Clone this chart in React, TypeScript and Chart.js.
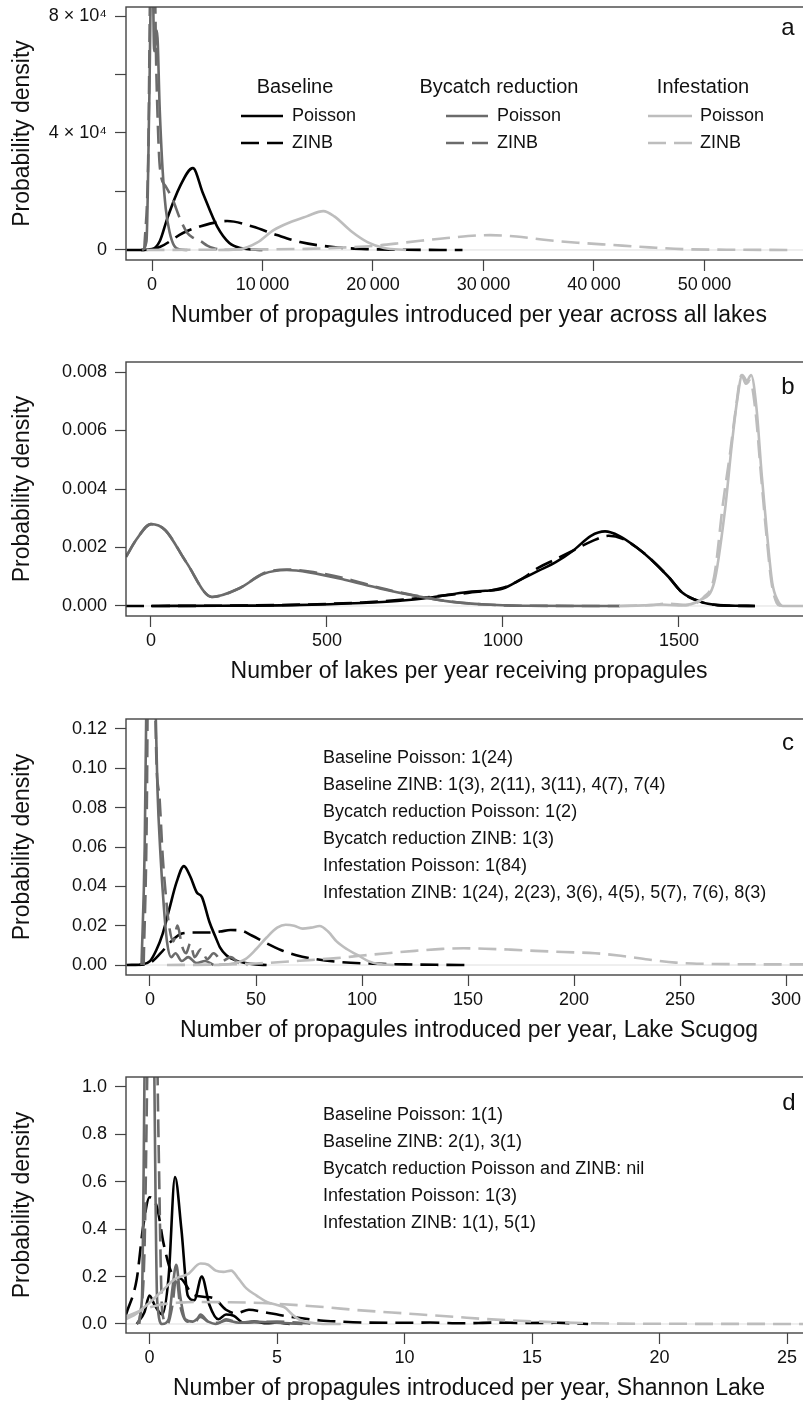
import React, { useEffect, useRef } from 'react';
import { Chart, registerables } from 'chart.js';

Chart.register(...registerables);

const FONT = '"Liberation Sans", Arial, Helvetica, sans-serif';
const BLACK = '#000000';
const DARK = '#6b6b6b';
const LIGHT = '#bdbdbd';
const AXIS = '#444444';
const TEXT = '#111111';

// ---------- Panel a: propagules across all lakes ----------
const aXTicks = [0, 10000, 20000, 30000, 40000, 50000];
const aXTickLabels = ['0', '10\u2009000', '20\u2009000', '30\u2009000', '40\u2009000', '50\u2009000'];
const aYTicks = [0, 20000, 40000, 60000, 80000];
const aYTickLabels = ['0', '', '4 \u00d7 10\u2074', '', '8 \u00d7 10\u2074'];

const aBasePoisX = [-1000, 0, 700, 1400, 2500, 3700, 4600, 5900, 7000, 8000, 10000];
const aBasePoisY = [0, 300, 3000, 11000, 21500, 28000, 19500, 8000, 2400, 700, 0];
const aBaseZinbX = [-2300, -500, 700, 2800, 4300, 6800, 9100, 11300, 13400, 16400, 19500, 23000, 28100];
const aBaseZinbY = [0, 0, 1000, 5800, 8000, 9900, 8000, 5100, 2700, 1000, 300, 80, 0];
const aBycPoisX = [-900, -500, -250, 0, 200, 450, 700, 950, 1250, 1600, 2000, 2500, 3200];
const aBycPoisY = [0, 3000, 50000, 110000, 68000, 75000, 48000, 28000, 14000, 6000, 1500, 200, 0];
const aBycZinbX = [-700, -350, -100, 150, 400, 720, 1200, 1900, 2500, 3200, 3800, 4400, 5000, 5600, 6500];
const aBycZinbY = [0, 30000, 105000, 110000, 60000, 28000, 22000, 17000, 11000, 5800, 4000, 3000, 1500, 600, 0];
const aInfPoisX = [6000, 8000, 9500, 11000, 12500, 14000, 15500, 16500, 18000, 19500, 21000, 23000];
const aInfPoisY = [0, 300, 2500, 6800, 9500, 11500, 13300, 11500, 6500, 2700, 700, 0];
const aInfZinbX = [-500, 5000, 10000, 14000, 17000, 20000, 23000, 26700, 30600, 33000, 35700, 38500, 41700, 45000, 48000, 52000, 58000];
const aInfZinbY = [0, 100, 200, 400, 800, 1400, 2600, 4100, 5100, 4600, 3400, 2500, 1700, 900, 300, 100, 0];

// ---------- Panel b: lakes receiving propagules ----------
const bXTicks = [0, 500, 1000, 1500];
const bXTickLabels = ['0', '500', '1000', '1500'];
const bYTicks = [0, 0.002, 0.004, 0.006, 0.008];
const bYTickLabels = ['0.000', '0.002', '0.004', '0.006', '0.008'];

const bBasePoisX = [0, 200, 400, 600, 700, 800, 900, 950, 1000, 1050, 1100, 1150, 1200, 1250, 1290, 1330, 1380, 1420, 1470, 1510, 1560, 1610, 1660, 1716];
const bBasePoisY = [0, 0.00001, 0.00003, 0.0001, 0.00017, 0.0003, 0.00048, 0.00052, 0.0006, 0.0009, 0.0012, 0.0015, 0.0019, 0.0024, 0.00255, 0.0024, 0.002, 0.0016, 0.001, 0.00045, 0.00015, 0.00003, 0.00001, 0];
const bBaseZinbX = [-71, 200, 400, 600, 700, 800, 900, 1000, 1050, 1100, 1150, 1200, 1250, 1300, 1340, 1380, 1420, 1470, 1510, 1560, 1610, 1716];
const bBaseZinbY = [0, 0.00001, 0.00004, 0.00012, 0.0002, 0.00032, 0.00045, 0.00062, 0.0009, 0.0013, 0.0016, 0.0019, 0.0022, 0.0024, 0.0023, 0.002, 0.0016, 0.001, 0.00045, 0.00015, 0.00003, 0];
const bBycPoisX = [-71, -40, 0, 40, 100, 173, 250, 320, 386, 450, 550, 650, 750, 850, 950, 1050, 1332];
const bBycPoisY = [0.00168, 0.0023, 0.0028, 0.0026, 0.0015, 0.00031, 0.0006, 0.0011, 0.00123, 0.00115, 0.0009, 0.0006, 0.00035, 0.00015, 0.00005, 0.00001, 0];
const bBycZinbX = [-71, -40, 0, 40, 100, 173, 250, 320, 386, 450, 550, 650, 750, 850, 950, 1050, 1332];
const bBycZinbY = [0.00168, 0.0023, 0.0028, 0.0026, 0.0015, 0.00031, 0.0006, 0.00112, 0.00125, 0.00118, 0.00095, 0.00062, 0.00036, 0.00015, 0.00005, 0.00001, 0];
const bInfPoisX = [1330, 1400, 1450, 1500, 1560, 1600, 1630, 1650, 1665, 1680, 1693, 1705, 1720, 1735, 1750, 1765, 1780, 1795, 1877];
const bInfPoisY = [0, 0.00002, 0.00005, 0.00002, 0.0002, 0.0008, 0.0032, 0.0055, 0.007, 0.0079, 0.0077, 0.0079, 0.0068, 0.0045, 0.0025, 0.0008, 0.0002, 0, 0];
const bInfZinbX = [1330, 1420, 1470, 1520, 1570, 1600, 1625, 1645, 1660, 1678, 1690, 1702, 1718, 1733, 1748, 1763, 1778, 1790];
const bInfZinbY = [0, 0.00003, 0.00008, 0.00003, 0.0003, 0.001, 0.0035, 0.0052, 0.0066, 0.0079, 0.0076, 0.0077, 0.0066, 0.0045, 0.0025, 0.0008, 0.0001, 0];

// ---------- Panel c: Lake Scugog ----------
const cXTicks = [0, 50, 100, 150, 200, 250, 300];
const cXTickLabels = ['0', '50', '100', '150', '200', '250', '300'];
const cYTicks = [0, 0.02, 0.04, 0.06, 0.08, 0.1, 0.12];
const cYTickLabels = ['0.00', '0.02', '0.04', '0.06', '0.08', '0.10', '0.12'];

const cBasePoisX = [-5, 0, 3, 6, 9, 12.5, 16, 19, 22, 24.5, 28, 31, 33, 36, 40, 45, 50, 55];
const cBasePoisY = [0, 0.002, 0.0076, 0.016, 0.028, 0.042, 0.0503, 0.045, 0.037, 0.0345, 0.022, 0.014, 0.009, 0.005, 0.0025, 0.001, 0.0003, 0];
const cBaseZinbX = [-11, -3, 0, 5, 10, 15, 20, 27, 33, 38, 43, 48, 55, 62, 69, 78, 90, 105, 120, 135, 151];
const cBaseZinbY = [0, 0.0003, 0.001, 0.006, 0.012, 0.016, 0.0165, 0.0165, 0.017, 0.0178, 0.0175, 0.015, 0.011, 0.0075, 0.005, 0.003, 0.0015, 0.0007, 0.0003, 0.0001, 0];
const cBycPoisX = [-4, -2.5, -1, 0.5, 2, 3.5, 5, 6.5, 8, 10, 12, 15, 18, 22, 26, 30];
const cBycPoisY = [0, 0.06, 0.2, 0.25, 0.16, 0.09, 0.055, 0.03, 0.012, 0.004, 0.006, 0.002, 0.004, 0.001, 0.002, 0];
const cBycZinbX = [-3, -1.5, 0, 1.5, 3, 4.5, 6, 7.5, 9, 11, 13, 15, 17, 19, 21, 24, 27, 30, 34, 38, 42, 46];
const cBycZinbY = [0, 0.08, 0.3, 0.2, 0.105, 0.085, 0.055, 0.035, 0.02, 0.012, 0.02, 0.01, 0.006, 0.011, 0.004, 0.008, 0.003, 0.006, 0.002, 0.004, 0.001, 0];
const cInfPoisX = [30, 38, 45, 50, 55, 60, 64, 68, 72, 76, 80, 84, 88, 93, 98, 103, 108, 115];
const cInfPoisY = [0, 0.0005, 0.003, 0.008, 0.014, 0.019, 0.0205, 0.02, 0.0185, 0.019, 0.0198, 0.017, 0.012, 0.008, 0.005, 0.002, 0.0005, 0];
const cInfZinbX = [8, 30, 50, 62, 75, 88, 100, 112, 125, 138, 148, 158, 170, 182, 195, 210, 222, 235, 248, 262, 280, 300, 312];
const cInfZinbY = [0, 0.0002, 0.0008, 0.0015, 0.0025, 0.0035, 0.0048, 0.006, 0.0072, 0.0082, 0.0085, 0.0083, 0.0078, 0.0072, 0.0066, 0.006, 0.0047, 0.0028, 0.0012, 0.0006, 0.0004, 0.0003, 0.0003];
const cNotes = [
  'Baseline Poisson: 1(24)',
  'Baseline ZINB: 1(3), 2(11), 3(11), 4(7), 7(4)',
  'Bycatch reduction Poisson: 1(2)',
  'Bycatch reduction ZINB: 1(3)',
  'Infestation Poisson: 1(84)',
  'Infestation ZINB: 1(24), 2(23), 3(6), 4(5), 5(7), 7(6), 8(3)',
];

// ---------- Panel d: Shannon Lake ----------
const dXTicks = [0, 5, 10, 15, 20, 25];
const dXTickLabels = ['0', '5', '10', '15', '20', '25'];
const dYTicks = [0, 0.2, 0.4, 0.6, 0.8, 1.0];
const dYTickLabels = ['0.0', '0.2', '0.4', '0.6', '0.8', '1.0'];

const dBasePoisX = [-0.5, -0.2, 0, 0.2, 0.5, 0.75, 1.0, 1.25, 1.5, 1.75, 2.05, 2.35, 2.7, 3.0, 3.3, 3.7, 4.1, 4.6, 5.0, 5.5];
const dBasePoisY = [0, 0.05, 0.12, 0.08, 0.04, 0.2, 0.62, 0.4, 0.12, 0.1, 0.2, 0.08, 0.02, 0.04, 0.035, 0.005, 0.01, 0.003, 0.006, 0];
const dBaseZinbX = [-0.92, -0.5, -0.25, 0, 0.3, 0.55, 0.9, 1.25, 1.65, 2.1, 2.5, 3.0, 3.4, 3.9, 4.5, 5.1, 5.9, 6.7, 7.5, 8.5, 9.8, 11, 12.3, 13.5, 14.8, 16, 17.2];
const dBaseZinbY = [0.04, 0.19, 0.41, 0.535, 0.49, 0.34, 0.21, 0.19, 0.13, 0.115, 0.11, 0.06, 0.045, 0.06, 0.05, 0.038, 0.025, 0.015, 0.01, 0.006, 0.005, 0.006, 0.003, 0.006, 0.004, 0.005, 0];
const dBycPoisX = [-0.5, -0.3, -0.15, 0, 0.15, 0.3, 0.5, 0.75, 0.9, 1.05, 1.2, 1.4, 1.7, 2.0, 2.3, 2.6, 3.0, 3.5, 4, 5, 6];
const dBycPoisY = [0, 0.1, 1.5, 2.0, 1.4, 0.1, 0, 0.02, 0.15, 0.25, 0.12, 0.02, 0.01, 0.03, 0.01, 0, 0.015, 0.005, 0.01, 0.005, 0];
const dBycZinbX = [-0.4, -0.2, 0, 0.2, 0.35, 0.5, 0.7, 0.9, 1.05, 1.2, 1.5, 1.8, 2.0, 2.3, 2.7, 3.0, 3.5, 4.2, 5, 6.5];
const dBycZinbY = [0, 0.3, 1.6, 1.8, 0.8, 0.05, 0, 0.08, 0.2, 0.08, 0.01, 0.01, 0.04, 0.01, 0.005, 0.02, 0.005, 0.008, 0.01, 0];
const dInfPoisX = [-0.92, -0.5, 0, 0.5, 1.0, 1.5, 2.0, 2.3, 2.6, 2.9, 3.2, 3.5, 3.8, 4.2, 4.6, 5.0, 5.3, 5.6, 5.9, 6.3, 6.8, 7.5];
const dInfPoisY = [0.02, 0.045, 0.09, 0.14, 0.19, 0.21, 0.255, 0.25, 0.225, 0.22, 0.225, 0.19, 0.15, 0.12, 0.093, 0.08, 0.07, 0.04, 0.017, 0.006, 0, 0];
const dInfZinbX = [-0.92, -0.5, 0, 0.6, 1.2, 2, 3, 4, 5, 6, 7, 8, 9, 10, 11, 12, 13, 14, 15, 16, 17, 18, 20, 23, 26];
const dInfZinbY = [0.03, 0.05, 0.07, 0.085, 0.09, 0.093, 0.092, 0.09, 0.085, 0.078, 0.07, 0.06, 0.052, 0.045, 0.037, 0.03, 0.022, 0.016, 0.011, 0.007, 0.004, 0.002, 0.001, 0.0005, 0];
const dNotes = [
  'Baseline Poisson: 1(1)',
  'Baseline ZINB: 2(1), 3(1)',
  'Bycatch reduction Poisson and ZINB: nil',
  'Infestation Poisson: 1(3)',
  'Infestation ZINB: 1(1), 5(1)',
];

const legendGroups = ['Baseline', 'Bycatch reduction', 'Infestation'];
const legendItems = ['Poisson', 'ZINB'];

// ---------- layout ----------
const CANVAS_W = 815;
const PLOT_LEFT = 126;
const PLOT_RIGHT = 812;
const DASH = [18, 8];
const LW = 2.6;
const TITLE_SIZE = 23;
const TICK_SIZE = 18;

type Series = { x: number[]; y: number[]; color: string; dashed: boolean };
type Panel = {
  top: number; height: number; plotTop: number; plotBottom: number;
  xMin: number; xMax: number; yMin: number; yMax: number;
  xTicks: number[]; xLabels: string[]; yTicks: number[]; yLabels: string[];
  xTitle: string; series: Series[]; letter: string; letterX: number; letterY: number;
  notes?: string[]; notesY0?: number; legend?: boolean;
};

const mk = (x: number[], y: number[], color: string, dashed: boolean): Series => ({ x, y, color, dashed });

const panels: Panel[] = [
  {
    top: 0, height: 355, plotTop: 7, plotBottom: 260,
    xMin: -2353, xMax: 59729, yMin: -3419, yMax: 83077,
    xTicks: aXTicks, xLabels: aXTickLabels, yTicks: aYTicks, yLabels: aYTickLabels,
    xTitle: 'Number of propagules introduced per year across all lakes',
    series: [
      mk(aInfPoisX, aInfPoisY, LIGHT, false), mk(aInfZinbX, aInfZinbY, LIGHT, true),
      mk(aBycPoisX, aBycPoisY, DARK, false), mk(aBycZinbX, aBycZinbY, DARK, true),
      mk(aBasePoisX, aBasePoisY, BLACK, false), mk(aBaseZinbX, aBaseZinbY, BLACK, true),
    ],
    letter: 'a', letterX: 788, letterY: 28, legend: true,
  },
  {
    top: 355, height: 357, plotTop: 362, plotBottom: 616,
    xMin: -71, xMax: 1878, yMin: -0.000342, yMax: 0.008342,
    xTicks: bXTicks, xLabels: bXTickLabels, yTicks: bYTicks, yLabels: bYTickLabels,
    xTitle: 'Number of lakes per year receiving propagules',
    series: [
      mk(bInfPoisX, bInfPoisY, LIGHT, false), mk(bInfZinbX, bInfZinbY, LIGHT, true),
      mk(bBycPoisX, bBycPoisY, DARK, false), mk(bBycZinbX, bBycZinbY, DARK, true),
      mk(bBasePoisX, bBasePoisY, BLACK, false), mk(bBaseZinbX, bBaseZinbY, BLACK, true),
    ],
    letter: 'b', letterX: 788, letterY: 387,
  },
  {
    top: 712, height: 358, plotTop: 719, plotBottom: 975,
    xMin: -11.32, xMax: 312.26, yMin: -0.00508, yMax: 0.12508,
    xTicks: cXTicks, xLabels: cXTickLabels, yTicks: cYTicks, yLabels: cYTickLabels,
    xTitle: 'Number of propagules introduced per year, Lake Scugog',
    series: [
      mk(cInfPoisX, cInfPoisY, LIGHT, false), mk(cInfZinbX, cInfZinbY, LIGHT, true),
      mk(cBycPoisX, cBycPoisY, DARK, false), mk(cBycZinbX, cBycZinbY, DARK, true),
      mk(cBasePoisX, cBasePoisY, BLACK, false), mk(cBaseZinbX, cBaseZinbY, BLACK, true),
    ],
    letter: 'c', letterX: 788, letterY: 743, notes: cNotes, notesY0: 758,
  },
  {
    top: 1070, height: 335, plotTop: 1077, plotBottom: 1333,
    xMin: -0.922, xMax: 25.98, yMin: -0.038, yMax: 1.042,
    xTicks: dXTicks, xLabels: dXTickLabels, yTicks: dYTicks, yLabels: dYTickLabels,
    xTitle: 'Number of propagules introduced per year, Shannon Lake',
    series: [
      mk(dInfPoisX, dInfPoisY, LIGHT, false), mk(dInfZinbX, dInfZinbY, LIGHT, true),
      mk(dBycPoisX, dBycPoisY, DARK, false), mk(dBycZinbX, dBycZinbY, DARK, true),
      mk(dBasePoisX, dBasePoisY, BLACK, false), mk(dBaseZinbX, dBaseZinbY, BLACK, true),
    ],
    letter: 'd', letterX: 789, letterY: 1103, notes: dNotes, notesY0: 1115,
  },
];

function buildChart(canvas: HTMLCanvasElement, p: Panel): Chart {
  const xAxisH = p.top + p.height - p.plotBottom;
  const titleLH = TITLE_SIZE * 1.2;
  const titlePadBottom = p.top + p.height - (p.plotBottom + 56) - titleLH / 2;
  const off = (y: number) => y - p.top;

  const framePlugin = {
    id: 'frame' + p.letter,
    beforeDatasetsDraw(chart: any) {
      const { ctx, chartArea, scales } = chart;
      const py = scales.y.getPixelForValue(0);
      ctx.save();
      ctx.strokeStyle = '#dedede';
      ctx.lineWidth = 1;
      ctx.beginPath();
      ctx.moveTo(chartArea.left, py);
      ctx.lineTo(chartArea.right, py);
      ctx.stroke();
      ctx.restore();
    },
    afterDraw(chart: any) {
      const { ctx, chartArea } = chart;
      ctx.save();
      ctx.strokeStyle = AXIS;
      ctx.lineWidth = 1.4;
      ctx.strokeRect(chartArea.left, chartArea.top, chartArea.right - chartArea.left, chartArea.bottom - chartArea.top);
      ctx.fillStyle = TEXT;
      ctx.textBaseline = 'middle';
      ctx.textAlign = 'center';
      ctx.font = `24px ${FONT}`;
      ctx.fillText(p.letter, p.letterX, off(p.letterY));
      if (p.notes && p.notesY0 !== undefined) {
        ctx.font = `18px ${FONT}`;
        ctx.textAlign = 'left';
        p.notes.forEach((t, i) => ctx.fillText(t, 323, off(p.notesY0! + i * 27)));
      }
      if (p.legend) {
        const groups = [
          { cx: 295, lx1: 241, lx2: 283, tx: 292, color: BLACK },
          { cx: 499, lx1: 446, lx2: 488, tx: 497, color: DARK },
          { cx: 703, lx1: 648, lx2: 692, tx: 700, color: LIGHT },
        ];
        groups.forEach((g, gi) => {
          ctx.font = `20px ${FONT}`;
          ctx.textAlign = 'center';
          ctx.fillStyle = TEXT;
          ctx.fillText(legendGroups[gi], g.cx, off(87));
          legendItems.forEach((item, ii) => {
            const y = off(116 + ii * 27);
            ctx.strokeStyle = g.color;
            ctx.lineWidth = LW;
            ctx.setLineDash(ii === 1 ? DASH : []);
            ctx.beginPath();
            ctx.moveTo(g.lx1, y);
            ctx.lineTo(g.lx2, y);
            ctx.stroke();
            ctx.setLineDash([]);
            ctx.font = `18px ${FONT}`;
            ctx.textAlign = 'left';
            ctx.fillText(item, g.tx, y);
          });
        });
      }
      ctx.restore();
    },
  };

  return new Chart(canvas, {
    type: 'line',
    data: {
      datasets: p.series.map((s) => ({
        data: s.x.map((x, i) => ({ x, y: s.y[i] })),
        borderColor: s.color,
        borderWidth: LW,
        borderDash: s.dashed ? DASH : [],
        pointRadius: 0,
        fill: false,
        cubicInterpolationMode: 'monotone' as const,
        borderJoinStyle: 'round' as const,
      })),
    },
    options: {
      responsive: false,
      animation: false,
      events: [],
      layout: { padding: { left: 0, right: CANVAS_W - PLOT_RIGHT, top: p.plotTop - p.top, bottom: 0 } },
      plugins: { legend: { display: false }, tooltip: { enabled: false } },
      scales: {
        x: {
          type: 'linear',
          min: p.xMin,
          max: p.xMax,
          border: { display: false },
          grid: { display: true, drawOnChartArea: false, drawTicks: true, tickLength: 11, color: AXIS, tickColor: AXIS, tickWidth: 1.2 },
          ticks: {
            autoSkip: false, maxRotation: 0, minRotation: 0, padding: 3, color: TEXT,
            font: { size: TICK_SIZE, family: FONT },
            callback: (v: any) => { const i = p.xTicks.indexOf(Number(v)); return i >= 0 ? p.xLabels[i] : ''; },
          },
          title: { display: true, text: p.xTitle, color: TEXT, font: { size: TITLE_SIZE, family: FONT }, padding: { top: 0, bottom: titlePadBottom } },
          afterBuildTicks: (s: any) => { s.ticks = p.xTicks.map((v) => ({ value: v })); },
          afterFit: (s: any) => { s.height = xAxisH; s.paddingLeft = 0; s.paddingRight = 0; },
        },
        y: {
          type: 'linear',
          min: p.yMin,
          max: p.yMax,
          border: { display: false },
          grid: { display: true, drawOnChartArea: false, drawTicks: true, tickLength: 11, color: AXIS, tickColor: AXIS, tickWidth: 1.2 },
          ticks: {
            autoSkip: false, padding: 8, color: TEXT,
            font: { size: TICK_SIZE, family: FONT },
            callback: (v: any) => { const i = p.yTicks.findIndex((t) => Math.abs(t - Number(v)) < 1e-9); return i >= 0 ? p.yLabels[i] : ''; },
          },
          title: { display: true, text: 'Probability density', color: TEXT, font: { size: TITLE_SIZE, family: FONT }, padding: { top: 9, bottom: 0 } },
          afterBuildTicks: (s: any) => { s.ticks = p.yTicks.map((v) => ({ value: v })); },
          afterFit: (s: any) => { s.width = PLOT_LEFT; s.paddingTop = 0; s.paddingBottom = 0; },
        },
      },
    } as any,
    plugins: [framePlugin],
  });
}

function PanelChart({ p }: { p: Panel }) {
  const ref = useRef<HTMLCanvasElement | null>(null);
  useEffect(() => {
    if (!ref.current) return;
    const chart = buildChart(ref.current, p);
    return () => chart.destroy();
  }, [p]);
  return (
    <canvas
      ref={ref}
      width={CANVAS_W}
      height={p.height}
      style={{ position: 'absolute', left: 0, top: p.top, width: CANVAS_W, height: p.height }}
    />
  );
}

export default function App() {
  return (
    <div style={{ position: 'absolute', left: 0, top: 0, width: 803, height: 1405, overflow: 'hidden', background: '#ffffff' }}>
      {panels.map((p) => (
        <PanelChart key={p.letter} p={p} />
      ))}
    </div>
  );
}
